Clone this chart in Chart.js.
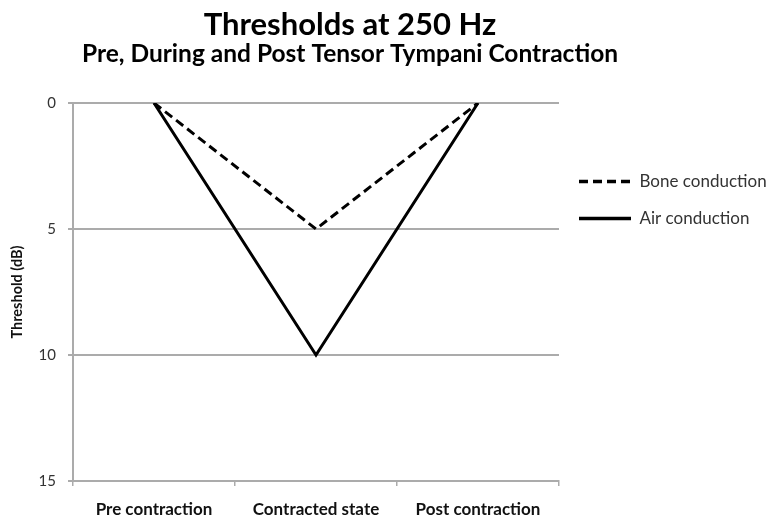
<!DOCTYPE html>
<html>
<head>
<meta charset="utf-8">
<script src="https://cdn.jsdelivr.net/npm/chart.js@4"></script>
<style>
  html, body { margin: 0; padding: 0; background: #fff; }
  #box { width: 771px; height: 520px; }
</style>
</head>
<body>
<div id="box"><canvas id="graph"></canvas></div>
<script>
let categories = ["Pre contraction", "Contracted state", "Post contraction"]
let boneConduction = [0, 5, 0]
let airConduction = [0, 10, 0]
let yTicks = [0, 5, 10, 15]

Chart.defaults.font.family = "Lato, 'Open Sans', sans-serif"
Chart.defaults.color = "#222"

let gridColor = "#ababab"

// the titles sit a bit left of the canvas centre in the original
const titleShift = {
  id: "titleShift",
  afterLayout(chart) {
    chart.boxes.filter(b => b.position === "top").forEach(b => {
      b.left = 0
      b.right = 700
    })
  }
}

new Chart(document.getElementById("graph"), {
  type: "line",
  data: {
    labels: categories,
    datasets: [
      {
        label: "Bone conduction",
        data: boneConduction,
        borderColor: "#000",
        borderWidth: 3,
        borderDash: [9, 5],
        pointRadius: 0,
        fill: false
      },
      {
        label: "Air conduction",
        data: airConduction,
        borderColor: "#000",
        borderWidth: 3,
        pointRadius: 0,
        fill: false
      }
    ]
  },
  plugins: [titleShift],
  options: {
    responsive: true,
    maintainAspectRatio: false,
    animation: false,
    layout: { padding: { left: 2, right: 0, top: 0, bottom: 0 } },
    plugins: {
      title: {
        display: true,
        text: "Thresholds at 250 Hz",
        color: "#000",
        font: { size: 31, weight: "bold", lineHeight: 1 },
        padding: { top: 9, bottom: 0 }
      },
      subtitle: {
        display: true,
        text: "Pre, During and Post Tensor Tympani Contraction",
        color: "#000",
        font: { size: 24.5, weight: "bold", lineHeight: 1 },
        padding: { top: 1.5, bottom: 37 }
      },
      legend: {
        position: "right",
        align: "start",
        fullSize: false,
        maxWidth: 212,
        title: { display: true, text: " ", font: { size: 12 }, padding: { top: 35.5, bottom: 0 } },
        labels: {
          usePointStyle: true,
          pointStyle: "line",
          pointStyleWidth: 52,
          padding: 20,
          color: "#333",
          font: { size: 17 },
          generateLabels: chart => Chart.defaults.plugins.legend.labels.generateLabels(chart).map((item, i) => ({
            ...item,
            lineDash: chart.data.datasets[i].borderDash || [],
            lineWidth: 3.5
          }))
        }
      },
      tooltip: { enabled: false }
    },
    scales: {
      x: {
        offset: true,
        afterFit: scale => { scale.height = 39 },
        grid: { offset: true, drawOnChartArea: false, drawTicks: true, tickLength: 5, color: gridColor, lineWidth: 1.5 },
        border: { color: gridColor, width: 2 },
        ticks: { padding: 13, color: "#111", font: { size: 17, weight: "bold" } }
      },
      y: {
        reverse: true,
        min: 0,
        max: 15,
        afterFit: scale => { scale.width = 71 },
        afterBuildTicks: scale => { scale.ticks = yTicks.map(v => ({ value: v })) },
        title: { display: true, text: "Threshold (dB)", color: "#111", font: { size: 14.5, weight: "bold" }, padding: { top: 7, bottom: 0 } },
        grid: { color: gridColor, lineWidth: 2, tickLength: 5 },
        border: { color: gridColor, width: 2 },
        ticks: { padding: 12, color: "#333", font: { size: 15 } }
      }
    }
  }
})
</script>
</body>
</html>
